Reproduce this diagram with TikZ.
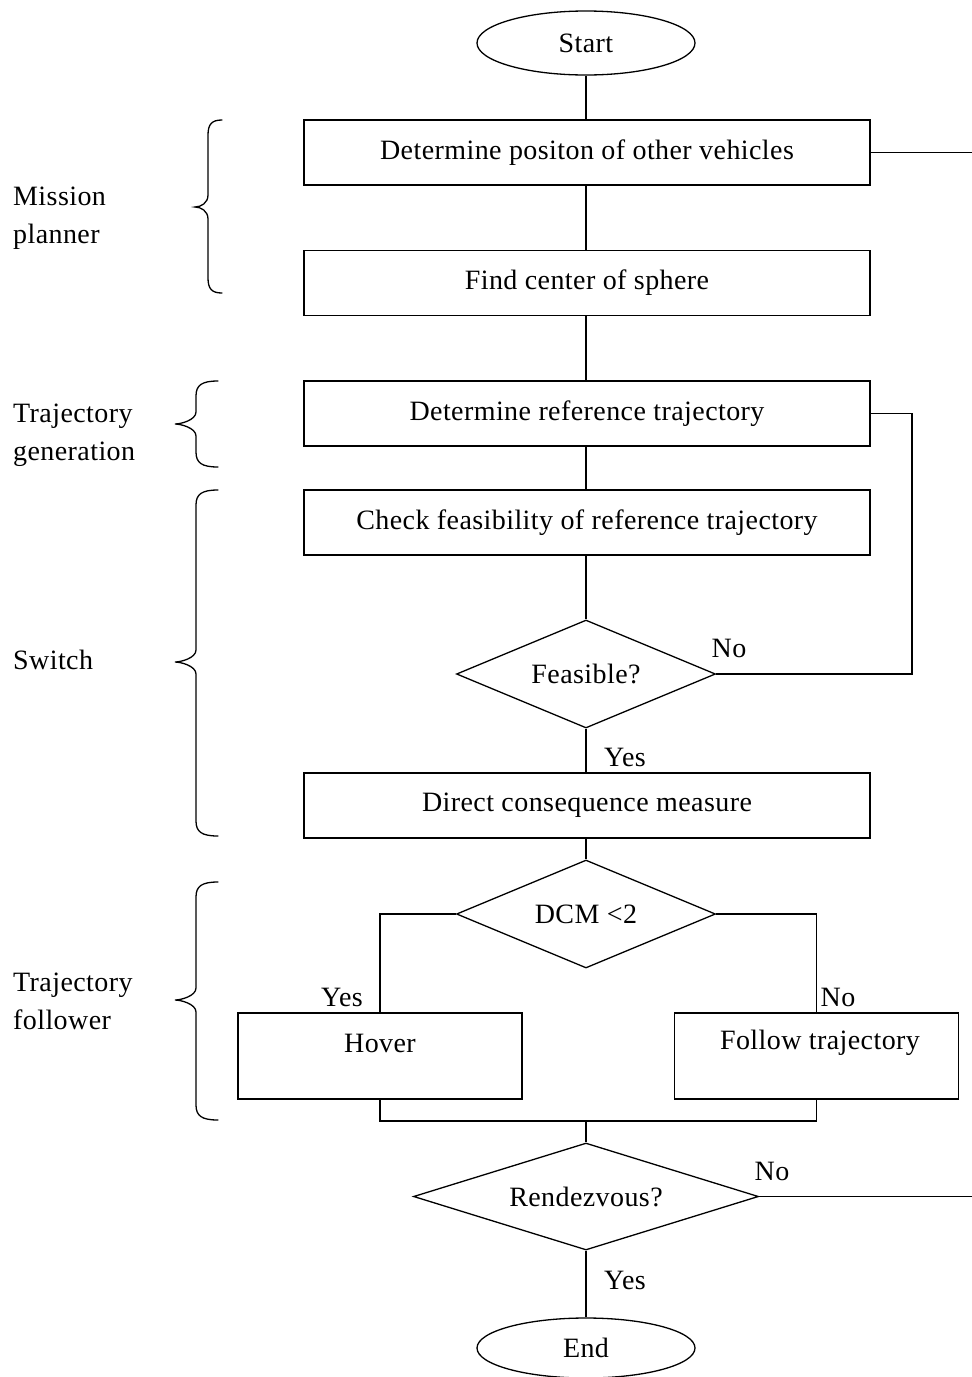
\documentclass[tikz,border=0pt]{standalone}
\usepackage{fontspec}
\setmainfont[LetterSpace=1.5]{Liberation Serif}
\usetikzlibrary{shapes.geometric}
\begin{document}
\begin{tikzpicture}[x=1pt,y=-1pt,
  every node/.style={font=\fontsize{28}{38}\selectfont, inner sep=0pt},
  flowline/.style={line width=1.3pt},
  procbox/.style={draw, line width=1.3pt, minimum width=566pt, minimum height=65pt},
  sidebox/.style={draw, line width=1.3pt, minimum width=284pt, minimum height=86pt},
  terminal/.style={draw, ellipse, line width=1.3pt, minimum width=218pt, minimum height=64pt},
  decision/.style={draw, diamond, line width=1.3pt, shape aspect=2.4, minimum width=259pt, minimum height=108pt},
  branchlabel/.style={anchor=center},
  grouplabel/.style={anchor=west, align=left},
  bracestyle/.style={line width=1.3pt, line cap=round}
]
\useasboundingbox (0,0) rectangle (972,1377);

% main column
\node[terminal] (start) at (586,43) {Start};
\node[procbox] (detpos) at (587,152.5) {Determine positon of other vehicles};
\node[procbox] (center) at (587,283) {Find center of sphere};
\node[procbox] (reftraj) at (587,413.5) {Determine reference trajectory};
\node[procbox] (check) at (587,522.5) {Check feasibility of reference trajectory};
\node[decision] (feas) at (586,674) {Feasible?};
\node[procbox] (dcm) at (587,805.5) {Direct consequence measure};
\node[decision] (dcmtest) at (586,914) {DCM <2};
\node[sidebox] (hover) at (380,1056) {};
\node[anchor=center] (hovertext) at (380,1043) {Hover};
\node[sidebox] (follow) at (816.5,1056) {};
\node[anchor=center] (followtext) at (820,1043) {Follow trajectory};
\node[decision, shape aspect=3.2, minimum width=345pt, minimum height=107pt] (rdv) at (586,1196.5) {Rendezvous?};
\node[terminal, minimum height=60pt] (finish) at (586,1348) {End};

% helper points
\coordinate (edgeTop) at (972,152.5);
\coordinate (loopTop) at (912,413.5);
\coordinate (loopBot) at (912,674);
\coordinate (dcmL) at (380,914);
\coordinate (dcmR) at (816.5,914);
\coordinate (joinL) at (380,1121);
\coordinate (joinM) at (586,1121);
\coordinate (joinR) at (816.5,1121);
\coordinate (edgeBot) at (972,1196.5);

% connectors
\draw[flowline] (start.south) -- (start.south |- detpos.north);
\draw[flowline] (start.south |- detpos.south) -- (start.south |- center.north);
\draw[flowline] (start.south |- center.south) -- (start.south |- reftraj.north);
\draw[flowline] (start.south |- reftraj.south) -- (start.south |- check.north);
\draw[flowline] (start.south |- check.south) -- (feas.north);
\draw[flowline] (feas.south) -- (feas.south |- dcm.north);
\draw[flowline] (feas.south |- dcm.south) -- (dcmtest.north);
\draw[flowline] (detpos.east) -- (edgeTop);
\draw[flowline] (feas.east) -- (loopBot) -- (loopTop) -- (reftraj.east);
\draw[flowline] (dcmtest.west) -- (dcmL) -- (hover.north);
\draw[flowline] (dcmtest.east) -- (dcmR) -- (follow.north);
\draw[flowline] (hover.south) -- (joinL) -- (joinR) -- (follow.south);
\draw[flowline] (joinM) -- (rdv.north);
\draw[flowline] (rdv.east) -- (edgeBot);
\draw[flowline] (rdv.south) -- (finish.north);

% branch labels
\node[branchlabel] (feasno) at (729,648) {No};
\node[branchlabel] (feasyes) at (625,757) {Yes};
\node[branchlabel] (dcmyes) at (342,997) {Yes};
\node[branchlabel] (dcmno) at (838,997) {No};
\node[branchlabel] (rdvno) at (772,1171) {No};
\node[branchlabel] (rdvyes) at (625,1280) {Yes};

% group labels
\node[grouplabel] (mission) at (13,218) {Mission\\planner};
\node[grouplabel] (trajgen) at (13,435) {Trajectory\\generation};
\node[grouplabel] (switch) at (13,660) {Switch};
\node[grouplabel] (follower) at (13,1001) {Trajectory\\follower};

% curly braces
\draw[bracestyle] (222,120) .. controls (212,120) and (208,124) .. (208,135)
  -- (208,195) .. controls (208,203) and (201,207) .. (195,207)
  .. controls (201,207) and (208,211) .. (208,219)
  -- (208,278) .. controls (208,289) and (212,293) .. (222,293);
\draw[bracestyle] (218,381) .. controls (202,381) and (196,385) .. (196,396)
  -- (196,412) .. controls (196,420) and (181,424) .. (175,424)
  .. controls (181,424) and (196,428) .. (196,436)
  -- (196,452) .. controls (196,463) and (202,467) .. (218,467);
\draw[bracestyle] (218,490) .. controls (202,490) and (196,494) .. (196,505)
  -- (196,650) .. controls (196,658) and (181,662) .. (175,662)
  .. controls (181,662) and (196,666) .. (196,674)
  -- (196,821) .. controls (196,832) and (202,836) .. (218,836);
\draw[bracestyle] (218,882) .. controls (202,882) and (196,886) .. (196,897)
  -- (196,988) .. controls (196,996) and (181,1000) .. (175,1000)
  .. controls (181,1000) and (196,1004) .. (196,1012)
  -- (196,1105) .. controls (196,1116) and (202,1120) .. (218,1120);
\end{tikzpicture}
\end{document}
